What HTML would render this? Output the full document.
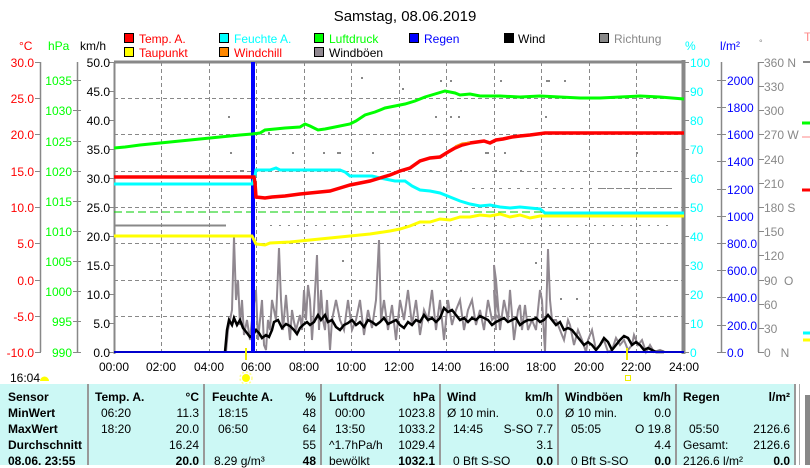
<!DOCTYPE html>
<html><head><meta charset="utf-8"><style>
body{margin:0;width:810px;height:465px;overflow:hidden;background:#fff;font-family:"Liberation Sans",sans-serif;}
svg{position:absolute;left:0;top:0}
text{font-family:"Liberation Sans",sans-serif;font-size:12px}
#tbl{position:absolute;left:0;top:384px;width:796px;height:81px;background:#ccf8f5;font-size:12px}
.col{position:absolute;top:0;height:81px;border-right:2px solid #999}
.r{position:absolute;white-space:nowrap}
.b{font-weight:bold}
</style></head><body>
<svg width="810" height="465" viewBox="0 0 810 465">
<text x="405" y="21" text-anchor="middle" style="font-size:15px">Samstag, 08.06.2019</text>
<!-- legend -->
<g style="font-size:12px">
<rect x="124.5" y="33.5" width="9" height="9" fill="#f00" stroke="#000"/><text x="139" y="43" fill="#f00">Temp. A.</text>
<rect x="124.5" y="47.5" width="9" height="9" fill="#ff0" stroke="#000"/><text x="139" y="57" fill="#f00">Taupunkt</text>
<rect x="219.5" y="33.5" width="9" height="9" fill="#0ff" stroke="#000"/><text x="234" y="43" fill="#0ff">Feuchte A.</text>
<rect x="219.5" y="47.5" width="9" height="9" fill="#f80" stroke="#000"/><text x="234" y="57" fill="#f00">Windchill</text>
<rect x="314.5" y="33.5" width="9" height="9" fill="#0f0" stroke="#000"/><text x="329" y="43" fill="#0f0">Luftdruck</text>
<rect x="314.5" y="47.5" width="9" height="9" fill="#908890" stroke="#000"/><text x="329" y="57" fill="#000">Windböen</text>
<rect x="409.5" y="33.5" width="9" height="9" fill="#00f" stroke="#000"/><text x="424" y="43" fill="#00f">Regen</text>
<rect x="504.5" y="33.5" width="9" height="9" fill="#000" stroke="#000"/><text x="518" y="43" fill="#000">Wind</text>
<rect x="599.5" y="33.5" width="9" height="9" fill="#888" stroke="#000"/><text x="614" y="43" fill="#888">Richtung</text>
</g>
<!-- unit labels -->
<text x="19" y="50" fill="#f00">°C</text><text x="48" y="50" fill="#0f0">hPa</text><text x="80" y="50">km/h</text>
<text x="685" y="50" fill="#0ff">%</text><text x="720" y="50" fill="#00f">l/m²</text><text x="759" y="46" fill="#888" style="font-size:9px">°</text>
<text x="804" y="41" fill="#f88">T</text>
<!-- grid -->
<g stroke="#888" stroke-dasharray="4,3" stroke-width="1">
<path d="M161.5 62V352M209.5 62V352M256.5 62V352M304.5 62V352M351.5 62V352M399.5 62V352M446.5 62V352M494.5 62V352M541.5 62V352M589.5 62V352M636.5 62V352"/>
<path d="M114 98.5H684M114 134.5H684M114 171.5H684M114 207.5H684M114 243.5H684M114 280.5H684M114 316.5H684"/>
</g>
<!-- plot frame -->
<path d="M114 62H684" stroke="#888" stroke-width="3"/>
<path d="M114.5 62V354" stroke="#888" stroke-width="2"/>
<path d="M683.5 60V354" stroke="#888" stroke-width="4"/>
<!-- left axes -->
<g stroke="#888" stroke-width="1.5" fill="none">
<path d="M40.5 62V352"/><path d="M77.5 62V352"/><path d="M721.5 62V352"/><path d="M758.5 62V352"/>
</g>
<g stroke="#888" stroke-width="1">
<path d="M35 62.5h6M35 98.5h6M35 134.5h6M35 171.5h6M35 207.5h6M35 243.5h6M35 280.5h6M35 316.5h6M35 352.5h6"/>
<path d="M73 80.5h8M73 110.5h8M73 141.5h8M73 171.5h8M73 201.5h8M73 231.5h8M73 261.5h8M73 291.5h8M73 321.5h8M73 352.5h8"/>
<path d="M109 62.5h5M109 91.5h5M109 120.5h5M109 149.5h5M109 178.5h5M109 207.5h5M109 236.5h5M109 265.5h5M109 294.5h5M109 323.5h5M109 352.5h5"/>
<path d="M684 62.5h5M684 91.5h5M684 120.5h5M684 149.5h5M684 178.5h5M684 207.5h5M684 236.5h5M684 265.5h5M684 294.5h5M684 323.5h5M684 352.5h5"/>
<path d="M717 80.5h9M717 107.5h9M717 134.5h9M717 161.5h9M717 189.5h9M717 216.5h9M717 243.5h9M717 270.5h9M717 297.5h9M717 325.5h9M717 352.5h9"/>
<path d="M758 62.5h6M758 86.5h6M758 110.5h6M758 134.5h6M758 159.5h6M758 183.5h6M758 207.5h6M758 231.5h6M758 255.5h6M758 280.5h6M758 304.5h6M758 328.5h6M758 352.5h6"/>
</g>
<g fill="#f00" text-anchor="end">
<text x="34" y="67">30.0</text><text x="34" y="103">25.0</text><text x="34" y="139">20.0</text><text x="34" y="176">15.0</text><text x="34" y="212">10.0</text><text x="34" y="248">5.0</text><text x="34" y="285">0.0</text><text x="34" y="321">-5.0</text><text x="34" y="357">-10.0</text>
</g>
<g fill="#0f0" text-anchor="end">
<text x="72" y="85">1035</text><text x="72" y="115">1030</text><text x="72" y="146">1025</text><text x="72" y="176">1020</text><text x="72" y="206">1015</text><text x="72" y="236">1010</text><text x="72" y="266">1005</text><text x="72" y="296">1000</text><text x="72" y="326">995</text><text x="72" y="357">990</text>
</g>
<g fill="#000" text-anchor="end">
<text x="110" y="67">50.0</text><text x="110" y="96">45.0</text><text x="110" y="125">40.0</text><text x="110" y="154">35.0</text><text x="110" y="183">30.0</text><text x="110" y="212">25.0</text><text x="110" y="241">20.0</text><text x="110" y="270">15.0</text><text x="110" y="299">10.0</text><text x="110" y="328">5.0</text><text x="110" y="357">0.0</text>
</g>
<g fill="#0ff">
<text x="690" y="67">100</text><text x="690" y="96">90</text><text x="690" y="125">80</text><text x="690" y="154">70</text><text x="690" y="183">60</text><text x="690" y="212">50</text><text x="690" y="241">40</text><text x="690" y="270">30</text><text x="690" y="299">20</text><text x="690" y="328">10</text><text x="690" y="357">0</text>
</g>
<g fill="#00f">
<text x="727" y="85">2000</text><text x="727" y="112">1800</text><text x="727" y="139">1600</text><text x="727" y="166">1400</text><text x="727" y="194">1200</text><text x="727" y="221">1000</text><text x="727" y="248">800.0</text><text x="727" y="275">600.0</text><text x="727" y="302">400.0</text><text x="727" y="330">200.0</text><text x="727" y="357">0.0</text>
</g>
<g fill="#888">
<text x="764" y="67">360 N</text><text x="764" y="91">330</text><text x="764" y="115">300</text><text x="764" y="139">270 W</text><text x="764" y="164">240</text><text x="764" y="188">210</text><text x="764" y="212">180 S</text><text x="764" y="236">150</text><text x="764" y="260">120</text><text x="764" y="285">90&#160;&#160;O</text><text x="764" y="309">60</text><text x="764" y="333">30</text><text x="764" y="357">0&#160;&#160;&#160;N</text>
</g>
<!-- x labels -->
<g text-anchor="middle">
<text x="114" y="371">00:00</text><text x="161" y="371">02:00</text><text x="209" y="371">04:00</text><text x="256" y="371">06:00</text><text x="304" y="371">08:00</text><text x="351" y="371">10:00</text><text x="399" y="371">12:00</text><text x="446" y="371">14:00</text><text x="494" y="371">16:00</text><text x="541" y="371">18:00</text><text x="589" y="371">20:00</text><text x="636" y="371">22:00</text><text x="684" y="371">24:00</text>
</g>
<text x="10" y="382">16:04</text>
<path d="M40 381a4 4 0 0 1 9 0z" fill="#ff0"/>
<circle cx="246" cy="378" r="4" fill="#ff0"/><circle cx="246" cy="378" r="6" fill="none" stroke="#ff8" stroke-width="1.5" stroke-dasharray="2,2"/>
<rect x="625.5" y="375.5" width="5" height="5" fill="none" stroke="#ee0"/>
<!-- direction dots -->
<g fill="#888">
<rect x="402" y="88" width="2" height="2"/><rect x="361" y="77" width="2" height="2"/><rect x="440" y="80" width="2" height="2"/><rect x="450" y="80" width="2" height="2"/><rect x="500" y="80" width="2" height="2"/><rect x="546" y="80" width="4" height="2"/><rect x="564" y="80" width="2" height="2"/>
<rect x="228" y="116" width="2" height="2"/><rect x="268" y="132" width="2" height="2"/><rect x="435" y="116" width="2" height="2"/><rect x="450" y="116" width="2" height="2"/><rect x="458" y="116" width="2" height="2"/><rect x="545" y="116" width="2" height="2"/>
<rect x="230" y="152" width="2" height="2"/><rect x="292" y="152" width="2" height="2"/><rect x="323" y="152" width="2" height="2"/><rect x="337" y="152" width="4" height="2"/><rect x="372" y="152" width="2" height="2"/><rect x="485" y="152" width="4" height="2"/><rect x="504" y="152" width="2" height="2"/><rect x="636" y="152" width="2" height="2"/>
<rect x="240" y="170" width="4" height="2"/><rect x="430" y="170" width="2" height="2"/><rect x="460" y="170" width="2" height="2"/><rect x="495" y="170" width="2" height="2"/><rect x="520" y="170" width="2" height="2"/>
<path d="M472 188.5h200" stroke="#888" stroke-dasharray="3,6"/><path d="M600 188.5h70" stroke="#888" stroke-dasharray="6,2"/>
<path d="M270 225.5h400" stroke="#888" stroke-dasharray="2,7"/>
<rect x="535" y="262" width="2" height="2"/><rect x="342" y="260" width="2" height="2"/><rect x="377" y="260" width="2" height="2"/><rect x="560" y="298" width="2" height="2"/><rect x="576" y="298" width="2" height="2"/>
</g>
<!-- gray direction line -->
<path d="M114 225.5H226" stroke="#888" stroke-width="2"/>
<!-- green dashed threshold -->
<path d="M114 212H684" stroke="#0c0" stroke-width="1" stroke-dasharray="8,4"/>
<!-- gusts -->
<polyline fill="none" stroke="#908890" stroke-width="2" points="226,352 228,330 232,310 234,237 236,300 238,280 240,325 242,300 244,335 247,320 250,340 253,310 256,290 258,340 260,320 262,300 264,345 266,350 268,320 270,330 272,300 274,310 276,320 279,248 281,300 283,330 286,295 288,320 290,340 292,310 294,322 296,330 300,315 302,330 304,290 306,320 308,285 310,300 312,340 314,310 317,255 319,330 321,290 323,320 325,330 327,300 330,350 332,320 336,300 340,320 344,330 348,300 352,330 356,320 360,300 364,335 368,310 372,328 376,300 379,240 381,320 384,300 388,330 392,305 396,340 400,300 404,320 408,290 412,325 416,300 420,335 424,310 428,320 432,290 436,330 440,300 444,340 448,300 452,325 456,310 460,300 464,330 468,310 472,300 476,325 480,310 484,330 488,300 492,320 496,315 500,320 494,290 496,330 494,265 496,280 500,330 504,300 508,320 510,290 514,340 518,310 520,305 522,330 525,305 528,330 532,320 536,330 540,290 542,300 545,352 546,320 548,249 550,300 552,320 556,320 560,330 564,340 568,320 570,325 574,345 578,330 582,340 586,352 588,340 592,330 596,350 600,345 604,340 608,352 612,350 616,338 620,345 624,340 628,350 632,345 634,335 638,345 642,340 646,352 650,345 654,352 660,350 665,352"/>
<!-- wind -->
<polyline fill="none" stroke="#000" stroke-width="2.5" points="225,352 227,330 229,320 232,325 234,318 237,325 240,320 243,328 247,333 250,337 253,335 256,330 259,333 262,338 266,335 269,337 272,330 274,322 278,320 282,328 286,324 290,326 294,330 297,334 300,328 303,325 307,322 310,325 314,322 318,315 321,320 325,315 328,322 332,320 336,327 340,330 344,325 348,323 352,320 356,325 360,322 364,327 368,320 372,322 376,325 380,322 384,318 388,324 392,322 396,320 400,325 404,328 408,322 412,325 416,320 420,322 424,315 428,320 432,318 436,322 440,318 444,308 448,312 452,310 456,315 460,320 464,318 468,322 472,318 476,320 480,316 484,318 488,320 492,325 496,322 500,320 504,318 508,322 512,320 516,318 520,325 524,322 528,320 532,320 536,318 540,322 544,320 548,315 552,320 556,325 560,322 564,330 568,328 572,330 576,335 580,340 584,345 588,342 592,345 596,350 600,345 604,338 608,342 612,350 616,345 620,340 624,336 628,338 632,345 636,342 640,345 644,350 648,348 652,350 656,352 664,352"/>
<!-- rain -->
<path d="M114 352H684" stroke="#00c" stroke-width="2"/>
<rect x="251" y="62" width="4" height="290" fill="#00f"/>
<!-- dewpoint -->
<polyline fill="none" stroke="#ff0" stroke-width="3" points="114,236 252,236 256,244 265,245 270,243 290,242 310,240 330,238 350,236 370,234 390,231 400,229 410,226 420,222 430,222 440,219 450,220 460,217 470,217 480,215 490,216 500,214 510,217 520,215 530,218 540,216 550,216 684,216"/>
<!-- humidity -->
<polyline fill="none" stroke="#0ff" stroke-width="3" points="114,184 252,184 255,176 256,170 270,170 276,168 280,170 300,170 340,170 345,172 350,176 365,176 372,176 380,178 395,181 405,181 412,186 420,190 430,191 440,193 450,197 460,201 470,204 480,206 490,205 500,207 510,208 520,207 530,208 540,209 545,213 684,213"/>
<!-- temp -->
<polyline fill="none" stroke="#f00" stroke-width="3.5" points="114,177 254,177 255,183 256,197 265,198 272,197 285,196 300,194 320,192 330,191 340,188 350,185 360,183 370,181 380,178 390,175 400,171 410,168 420,161 430,158 440,157 448,152 455,148 462,145 470,143 477,142 484,141 490,143 496,140 503,139 512,137 520,136 530,135 545,133 684,133"/>
<polyline fill="none" stroke="#f80" stroke-width="1" points="455,146 462,143 470,142"/>
<!-- pressure -->
<polyline fill="none" stroke="#0f0" stroke-width="3" points="114,148 125,147 140,145 160,143 180,141 200,139 220,137 240,135 252,134 260,133 265,130 285,128 300,127 305,124 310,126 318,130 325,129 335,127 350,124 356,121 365,115 375,112 385,108 395,106 405,104 415,101 425,97 435,94 445,91 455,93 460,95 470,94 480,96 500,96 520,97 540,96 560,97 580,98 600,98 620,97 640,96 660,97 684,99"/>
<!-- right edge marks -->
<path d="M803 62h7" stroke="#888" stroke-width="2"/>
<path d="M802 123h8" stroke="#0f0" stroke-width="3"/><path d="M802 137h8" stroke="#f88" stroke-width="1"/>
<path d="M802 190h8" stroke="#f00" stroke-width="3"/>
<path d="M803 333h7" stroke="#0ff" stroke-width="3"/><path d="M803 340h7" stroke="#ff0" stroke-width="3"/>
<!-- sunrise/sunset ticks -->
<path d="M246 348V360M627 348V360" stroke="#ee0" stroke-width="2"/>
<!-- scroll -->
<path d="M799.5 384V465" stroke="#aaa"/><rect x="805" y="395" width="5" height="70" fill="#888"/>
</svg>
<div id="tbl">
 <div class="col" style="left:0;width:87px">
  <div class="r b" style="left:8px;top:6px">Sensor</div>
  <div class="r b" style="left:8px;top:22px">MinWert</div>
  <div class="r b" style="left:8px;top:38px">MaxWert</div>
  <div class="r b" style="left:8px;top:54px">Durchschnitt</div>
  <div class="r b" style="left:8px;top:70px">08.06. 23:55</div>
 </div>
 <div class="col" style="left:89px;width:114px">
  <div class="r b" style="left:6px;top:6px">Temp. A.</div><div class="r b" style="right:4px;top:6px">°C</div>
  <div class="r" style="left:12px;top:22px">06:20</div><div class="r" style="right:4px;top:22px">11.3</div>
  <div class="r" style="left:12px;top:38px">18:20</div><div class="r" style="right:4px;top:38px">20.0</div>
  <div class="r" style="right:4px;top:54px">16.24</div>
  <div class="r b" style="right:4px;top:70px">20.0</div>
 </div>
 <div class="col" style="left:206px;width:114px">
  <div class="r b" style="left:6px;top:6px">Feuchte A.</div><div class="r b" style="right:4px;top:6px">%</div>
  <div class="r" style="left:12px;top:22px">18:15</div><div class="r" style="right:4px;top:22px">48</div>
  <div class="r" style="left:12px;top:38px">06:50</div><div class="r" style="right:4px;top:38px">64</div>
  <div class="r" style="right:4px;top:54px">55</div>
  <div class="r" style="left:8px;top:70px">8.29 g/m³</div><div class="r b" style="right:4px;top:70px">48</div>
 </div>
 <div class="col" style="left:323px;width:116px">
  <div class="r b" style="left:6px;top:6px">Luftdruck</div><div class="r b" style="right:4px;top:6px">hPa</div>
  <div class="r" style="left:12px;top:22px">00:00</div><div class="r" style="right:4px;top:22px">1023.8</div>
  <div class="r" style="left:12px;top:38px">13:50</div><div class="r" style="right:4px;top:38px">1033.2</div>
  <div class="r" style="left:6px;top:54px">^1.7hPa/h</div><div class="r" style="right:4px;top:54px">1029.4</div>
  <div class="r" style="left:6px;top:70px">bewölkt</div><div class="r b" style="right:4px;top:70px">1032.1</div>
 </div>
 <div class="col" style="left:441px;width:116px">
  <div class="r b" style="left:6px;top:6px">Wind</div><div class="r b" style="right:4px;top:6px">km/h</div>
  <div class="r" style="left:6px;top:22px">Ø 10 min.</div><div class="r" style="right:4px;top:22px">0.0</div>
  <div class="r" style="left:12px;top:38px">14:45</div><div class="r" style="right:4px;top:38px">S-SO 7.7</div>
  <div class="r" style="right:4px;top:54px">3.1</div>
  <div class="r" style="left:12px;top:70px">0 Bft S-SO</div><div class="r b" style="right:4px;top:70px">0.0</div>
 </div>
 <div class="col" style="left:559px;width:116px">
  <div class="r b" style="left:6px;top:6px">Windböen</div><div class="r b" style="right:4px;top:6px">km/h</div>
  <div class="r" style="left:6px;top:22px">Ø 10 min.</div><div class="r" style="right:4px;top:22px">0.0</div>
  <div class="r" style="left:12px;top:38px">05:05</div><div class="r" style="right:4px;top:38px">O 19.8</div>
  <div class="r" style="right:4px;top:54px">4.4</div>
  <div class="r" style="left:12px;top:70px">0 Bft S-SO</div><div class="r b" style="right:4px;top:70px">0.0</div>
 </div>
 <div class="col" style="left:677px;width:117px">
  <div class="r b" style="left:6px;top:6px">Regen</div><div class="r b" style="right:4px;top:6px">l/m²</div>
  <div class="r" style="left:12px;top:38px">05:50</div><div class="r" style="right:4px;top:38px">2126.6</div>
  <div class="r" style="left:6px;top:54px">Gesamt:</div><div class="r" style="right:4px;top:54px">2126.6</div>
  <div class="r" style="left:6px;top:70px">2126.6 l/m²</div><div class="r b" style="right:4px;top:70px">0.0</div>
 </div>
</div>
</body></html>
